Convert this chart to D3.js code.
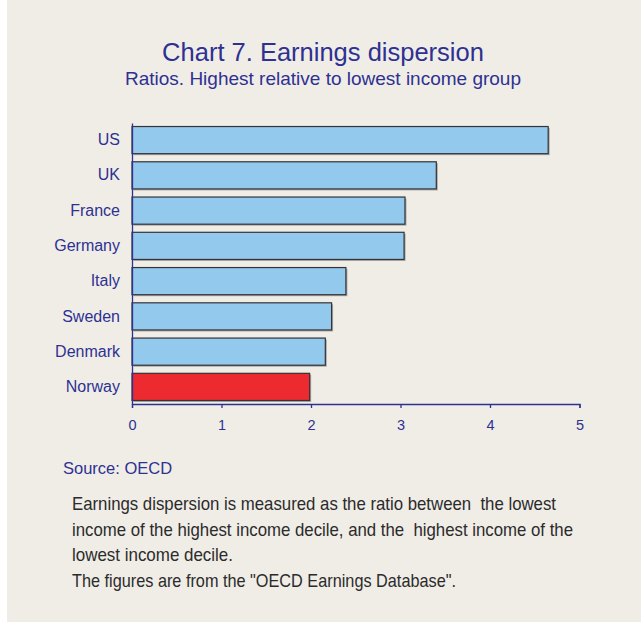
<!DOCTYPE html>
<html>
<head>
<meta charset="utf-8">
<script src="https://cdn.jsdelivr.net/npm/d3@7"></script>
<style>
	body { margin: 0; background: #ffffff; }
	svg { display: block; }
</style>
</head>
<body>
<div id="chart"></div>
<script>
// data
const countries = ["US", "UK", "France", "Germany", "Italy", "Sweden", "Denmark", "Norway"];
const ratios = [4.65, 3.40, 3.05, 3.04, 2.39, 2.23, 2.16, 1.985];
const highlight = ["Norway"];
const x_ticks = [0, 1, 2, 3, 4, 5];

const title = "Chart 7. Earnings dispersion";
const subtitle = "Ratios. Highest relative to lowest income group";
const source = "Source: OECD";
const note_lines = [
	"Earnings dispersion is measured as the ratio between  the lowest",
	"income of the highest income decile, and the  highest income of the",
	"lowest income decile.",
	"The figures are from the \"OECD Earnings Database\"."
];
const note_widths = [484, 501, 161, 384];

const W = 641, H = 622;
const navy = "#2e3192";
const sans = "Liberation Sans, Arial, sans-serif";

const svg = d3.select("#chart").append("svg")
	.attr("width", W)
	.attr("height", H)
	.attr("viewBox", `0 0 ${W} ${H}`);

// background panel, white strip on the left
svg.append("rect").attr("x", 0).attr("y", 0).attr("width", W).attr("height", H).attr("fill", "#ffffff");
svg.append("rect").attr("x", 7).attr("y", 0).attr("width", W - 7).attr("height", H).attr("fill", "#f0ede7");

// titles
svg.append("text")
	.attr("x", 323).attr("y", 61)
	.attr("text-anchor", "middle")
	.attr("font-family", sans)
	.attr("font-size", 25.5)
	.attr("fill", navy)
	.text(title);

svg.append("text")
	.attr("x", 323).attr("y", 85)
	.attr("text-anchor", "middle")
	.attr("font-family", sans)
	.attr("font-size", 19)
	.attr("fill", navy)
	.text(subtitle);

// plot area
const margin = {top: 123, left: 132};
const width = 579.5 - 132;
const height = 404 - 123;

const g = svg.append("g").attr("transform", `translate(${margin.left},${margin.top})`);

const x_scale = d3.scaleLinear().domain([0, 5]).range([0, width]);
const y_scale = d3.scaleBand().domain(countries).range([0, height]).paddingInner(0.23).paddingOuter(0.1);

const data = countries.map((c, i) => ({country: c, value: ratios[i]}));

// bar shadows
g.selectAll(".shadow")
	.data(data)
	.enter()
	.append("rect")
	.attr("class", "shadow")
	.attr("x", 1.5)
	.attr("y", (d) => y_scale(d.country) + 1.5)
	.attr("width", (d) => x_scale(d.value))
	.attr("height", y_scale.bandwidth())
	.attr("fill", "#a9a7a3");

g.selectAll(".bar")
	.data(data)
	.enter()
	.append("rect")
	.attr("class", "bar")
	.attr("x", 0)
	.attr("y", (d) => y_scale(d.country))
	.attr("width", (d) => x_scale(d.value))
	.attr("height", y_scale.bandwidth())
	.attr("fill", (d) => highlight.includes(d.country) ? "#ec2a30" : "#93c9ec")
	.attr("stroke", "#333338")
	.attr("stroke-width", 1.2);

// axes
const x_axis = g.append("g")
	.attr("class", "x axis")
	.attr("transform", `translate(0,${height})`)
	.call(d3.axisBottom(x_scale).tickValues(x_ticks).tickFormat(d3.format("d")).tickSizeOuter(0).tickSize(4).tickPadding(8));
x_axis.selectAll(".tick line").attr("stroke", navy).attr("stroke-width", 1.3);
x_axis.select(".domain").attr("stroke", navy).attr("stroke-width", 1.3);
x_axis.selectAll("text")
	.attr("fill", navy)
	.attr("font-family", sans)
	.attr("font-size", 14.5)
	.attr("dy", null)
	.attr("y", 26);

const y_axis = g.append("g")
	.attr("class", "y axis")
	.call(d3.axisLeft(y_scale).tickSize(0).tickPadding(12).tickSizeOuter(0));
y_axis.select(".domain").attr("stroke", navy).attr("stroke-width", 1.3);
y_axis.selectAll("text")
	.attr("fill", navy)
	.attr("font-family", sans)
	.attr("font-size", 16);

// source and note
svg.append("text")
	.attr("x", 63).attr("y", 474)
	.attr("font-family", sans)
	.attr("font-size", 16.5)
	.attr("fill", navy)
	.text(source);

svg.append("g").selectAll("text")
	.data(note_lines)
	.enter()
	.append("text")
	.attr("x", 72)
	.attr("y", (d, i) => 510 + i * 25.7)
	.attr("font-family", "Liberation Sans Narrow, Arial Narrow, Liberation Sans, sans-serif")
	.attr("font-size", 18.5)
	.attr("fill", "#2b2b2b")
	.attr("textLength", (d, i) => note_widths[i])
	.attr("lengthAdjust", "spacingAndGlyphs")
	.style("white-space", "pre")
	.text((d) => d);
</script>
</body>
</html>
